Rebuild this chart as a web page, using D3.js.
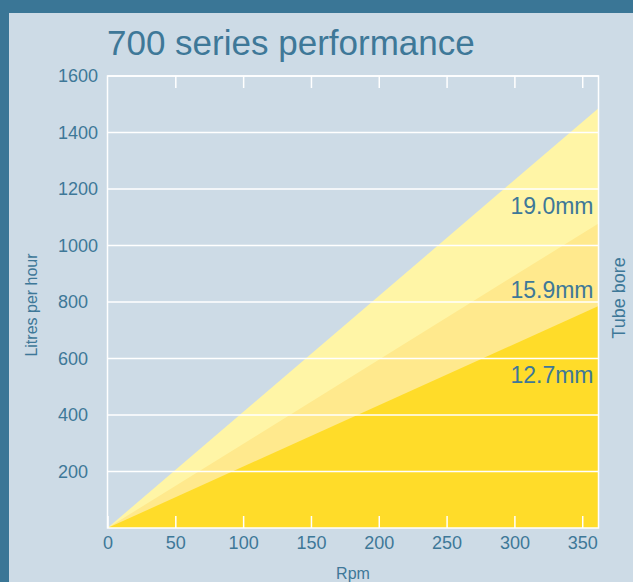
<!DOCTYPE html>
<meta charset="utf-8">
<head>
  <style>
  body{
    margin: 0;
    background-color: #3a7696;
  }
  svg{
    display: block;
    font-family: "Liberation Sans", Arial, sans-serif;
  }
  .tick text{
    fill: #3e7898;
  }
  </style>
</head>
<body>

<div id="graph"></div>

<script src="https://d3js.org/d3.v7.min.js"></script>
<script>

// data
var rpm = [0, 362];
var bores = ["19.0mm", "15.9mm", "12.7mm"];
var flow190 = [0, 1486];
var flow159 = [0, 1078];
var flow127 = [0, 786];
var xTicks = [0, 50, 100, 150, 200, 250, 300, 350];
var yTicks = [200, 400, 600, 800, 1000, 1200, 1400, 1600];

var series = [
  {name: bores[0], values: flow190, color: "#fff5a6"},
  {name: bores[1], values: flow159, color: "#ffe98d"},
  {name: bores[2], values: flow127, color: "#ffdc29"}
];

var W = 633, H = 582;
var textColor = "#3e7898";

var SVG = d3.select("#graph").append("svg")
  .attr("width", W)
  .attr("height", H);

// light panel inside the dark frame
SVG.append("rect")
  .attr("x", 9)
  .attr("y", 13)
  .attr("width", W - 9)
  .attr("height", H - 13)
  .attr("fill", "#cddbe6");

var x = d3.scaleLinear()
  .domain([0, 362])
  .range([107.5, 598.5]);

var y = d3.scaleLinear()
  .domain([0, 1600])
  .range([528, 76]);

var area = d3.area()
  .x(function(d, i){ return x(rpm[i]); })
  .y0(y(0))
  .y1(function(d){ return y(d); });

SVG.selectAll(".band")
  .data(series)
  .enter().append("path")
  .attr("class", "band")
  .attr("fill", function(d){ return d.color; })
  .attr("d", function(d){ return area(d.values); });

// horizontal grid lines
SVG.selectAll(".grid")
  .data(yTicks)
  .enter().append("line")
  .attr("class", "grid")
  .attr("x1", x(0))
  .attr("x2", x(362))
  .attr("y1", function(d){ return y(d); })
  .attr("y2", function(d){ return y(d); })
  .attr("stroke", "#fff")
  .attr("stroke-width", 1.5);

// frame of the plot
SVG.append("rect")
  .attr("x", x(0))
  .attr("y", y(1600))
  .attr("width", x(362) - x(0))
  .attr("height", y(0) - y(1600))
  .attr("fill", "none")
  .attr("stroke", "#fff")
  .attr("stroke-width", 1.5);

// ticks inside, bottom and top
var Xaxis = d3.axisBottom(x).tickValues(xTicks).tickSize(12).tickFormat(d3.format("d"));

var xg = SVG.append("g")
  .attr("transform", "translate(0," + y(0) + ")")
  .call(Xaxis);
xg.select(".domain").remove();
xg.selectAll(".tick line")
  .attr("y2", -12)
  .attr("stroke", "#fff")
  .attr("stroke-width", 1.5);
xg.selectAll(".tick text")
  .attr("y", 21)
  .attr("dy", 0)
  .style("font-size", "18px")
  .style("font-family", "\"Liberation Sans\", Arial, sans-serif");

var Xtop = d3.axisTop(x).tickValues(xTicks.slice(1)).tickSize(12).tickFormat("");
var tg = SVG.append("g")
  .attr("transform", "translate(0," + y(1600) + ")")
  .call(Xtop);
tg.select(".domain").remove();
tg.selectAll(".tick line")
  .attr("y2", 12)
  .attr("stroke", "#fff")
  .attr("stroke-width", 1.5);

// y labels, left aligned
SVG.selectAll(".ylab")
  .data(yTicks)
  .enter().append("text")
  .attr("class", "ylab")
  .attr("x", 58)
  .attr("y", function(d){ return y(d); })
  .attr("dy", "0.36em")
  .attr("fill", textColor)
  .style("font-size", "18px")
  .text(function(d){ return d; });

// bore labels
var labelY = [1110, 813, 512];
SVG.selectAll(".bore")
  .data(series)
  .enter().append("text")
  .attr("class", "bore")
  .attr("x", 593.5)
  .attr("y", function(d, i){ return y(labelY[i]); })
  .attr("text-anchor", "end")
  .attr("fill", textColor)
  .style("font-size", "23px")
  .text(function(d){ return d.name; });

SVG.append("text")
  .attr("x", 107)
  .attr("y", 55)
  .attr("fill", textColor)
  .style("font-size", "35px")
  .text("700 series performance");

SVG.append("text")
  .attr("x", 353)
  .attr("y", 579)
  .attr("text-anchor", "middle")
  .attr("fill", textColor)
  .style("font-size", "16px")
  .text("Rpm");

SVG.append("text")
  .attr("transform", "translate(37,305) rotate(-90)")
  .attr("text-anchor", "middle")
  .attr("fill", textColor)
  .style("font-size", "16px")
  .text("Litres per hour");

SVG.append("text")
  .attr("transform", "translate(625,298) rotate(-90)")
  .attr("text-anchor", "middle")
  .attr("fill", textColor)
  .style("font-size", "18px")
  .text("Tube bore");

</script>
</body>
</html>
